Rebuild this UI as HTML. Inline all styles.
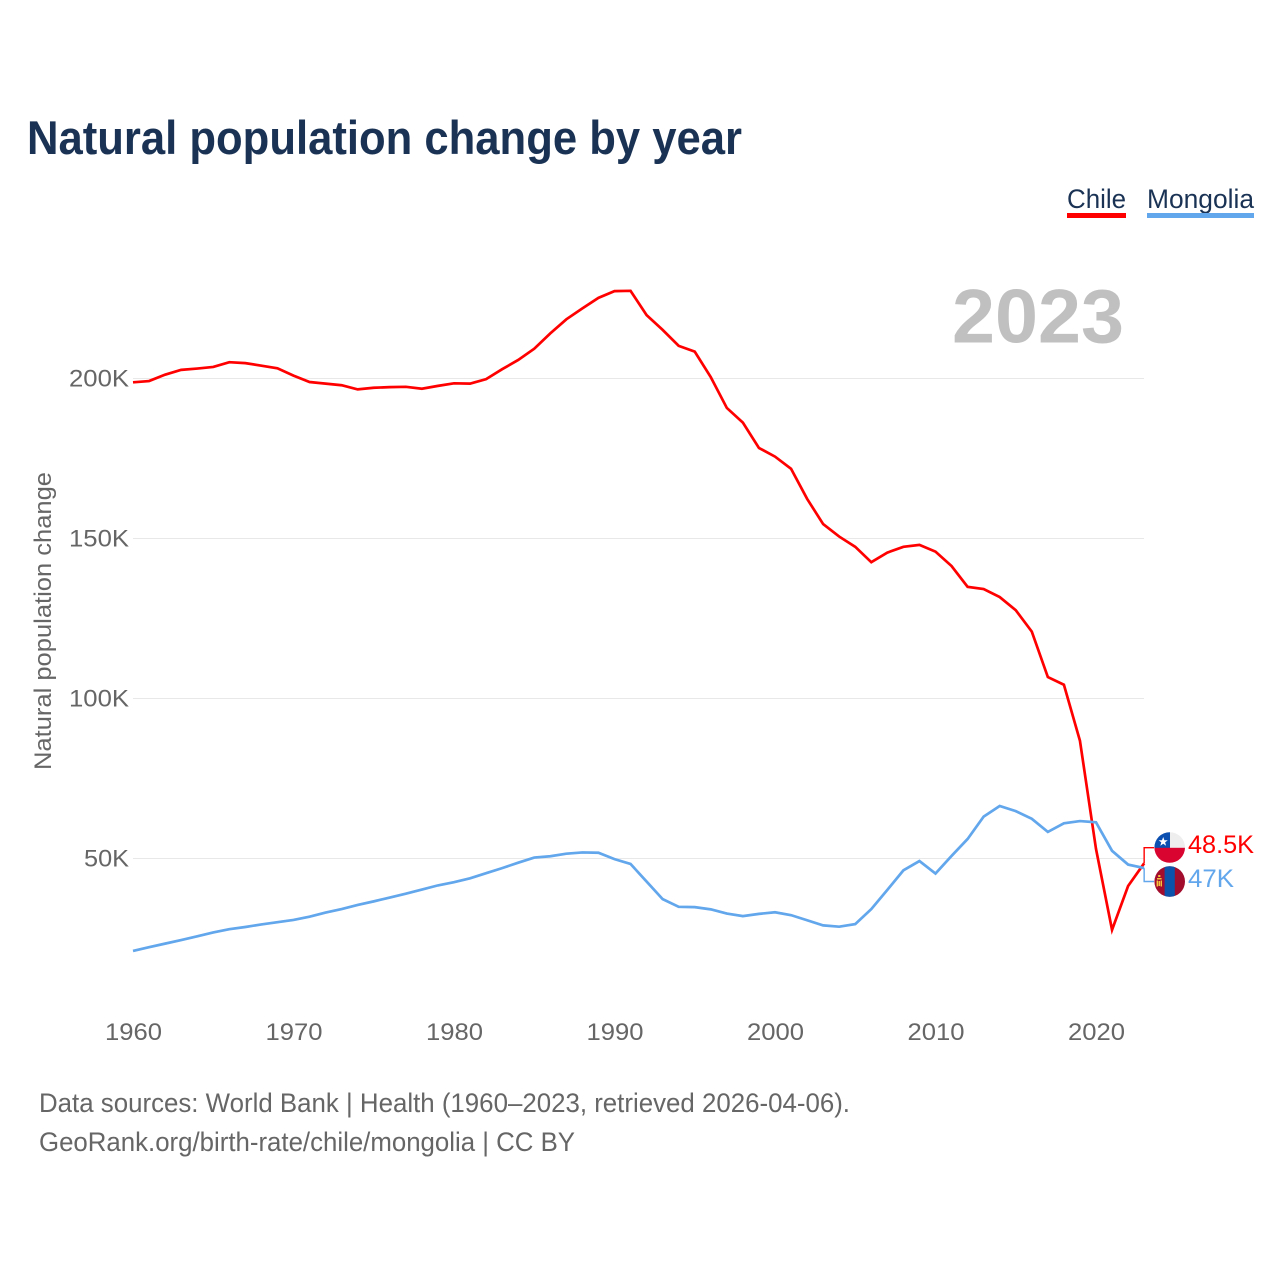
<!DOCTYPE html>
<html lang="en">
<head>
<meta charset="utf-8">
<title>Natural population change by year</title>
<style>
html,body{margin:0;padding:0;background:#fff}
svg{display:block}
text{font-family:"Liberation Sans",sans-serif}
</style>
</head>
<body>
<svg id="chart" xmlns="http://www.w3.org/2000/svg" width="1280" height="1280" viewBox="0 0 1280 1280">
  <rect x="0" y="0" width="1280" height="1280" fill="#fff"/>
  <text x="27" y="154" font-size="47" font-weight="700" fill="#1a3355" textLength="715" lengthAdjust="spacingAndGlyphs">Natural population change by year</text>

  <g>
    <text x="1067" y="208" font-size="27" fill="#1a3355" textLength="59" lengthAdjust="spacingAndGlyphs">Chile</text>
    <rect x="1067" y="213" width="59" height="5" fill="#ff0000"/>
  </g>
  <g>
    <text x="1147" y="208" font-size="27" fill="#1a3355" textLength="107" lengthAdjust="spacingAndGlyphs">Mongolia</text>
    <rect x="1147" y="213" width="107" height="5" fill="#62a6ec"/>
  </g>

  <g id="grid"></g>
  <text x="952" y="342.5" font-size="76" font-weight="700" fill="#c0c0c0" textLength="172" lengthAdjust="spacingAndGlyphs">2023</text>
  <g id="yticks"></g>
  <g id="xticks"></g>
  <text transform="translate(51,770) rotate(-90)" x="0" y="0" font-size="24" fill="#666" textLength="298" lengthAdjust="spacingAndGlyphs">Natural population change</text>

  <g id="series"></g>

  <defs>
    <clipPath id="clip-chile"><circle cx="1169.7" cy="847.5" r="15.3"/></clipPath>
    <clipPath id="clip-mongolia"><circle cx="1169.7" cy="881.5" r="15.3"/></clipPath>
  </defs>
  <g clip-path="url(#clip-chile)">
    <rect x="1154" y="832" width="32" height="16" fill="#eeeeee"/>
    <rect x="1154" y="832" width="16" height="16" fill="#0b4fb0"/>
    <rect x="1154" y="847.8" width="32" height="16" fill="#d9042f"/>
    <polygon points="1163.2,837 1164.4,840.3 1167.8,840.3 1165.1,842.4 1166.1,845.7 1163.2,843.7 1160.3,845.7 1161.3,842.4 1158.6,840.3 1162,840.3" fill="#fff"/>
  </g>
  <g clip-path="url(#clip-mongolia)">
    <rect x="1154" y="866" width="32" height="32" fill="#a30d2d"/>
    <rect x="1164.6" y="866" width="10.2" height="32" fill="#0b53ab"/>
    <rect x="1158.2" y="875" width="2.2" height="2" fill="#f4c43a"/>
    <rect x="1157" y="878" width="4.6" height="1.5" fill="#f4c43a"/>
    <rect x="1156.6" y="880.5" width="1.4" height="6" fill="#f4c43a"/>
    <rect x="1160.6" y="880.5" width="1.4" height="6" fill="#f4c43a"/>
    <rect x="1158.5" y="881" width="1.6" height="5" fill="#f4c43a"/>
  </g>
  <text x="1188" y="853" font-size="25" fill="#ff0000" textLength="66" lengthAdjust="spacingAndGlyphs">48.5K</text>
  <text x="1188" y="887" font-size="25" fill="#62a6ec" textLength="46" lengthAdjust="spacingAndGlyphs">47K</text>

  <text x="39" y="1112" font-size="27" fill="#666" textLength="811" lengthAdjust="spacingAndGlyphs">Data sources: World Bank | Health (1960–2023, retrieved 2026-04-06).</text>
  <text x="39" y="1151" font-size="27" fill="#666" textLength="536" lengthAdjust="spacingAndGlyphs">GeoRank.org/birth-rate/chile/mongolia | CC BY</text>
</svg>
<script>
const startYear = 1960;
const chileValues = [198.8,199.2,201.2,202.7,203.1,203.6,205.1,204.8,204.0,203.2,200.9,198.9,198.4,197.9,196.6,197.1,197.3,197.4,196.8,197.7,198.5,198.4,199.8,202.9,205.8,209.3,214.1,218.5,221.9,225.2,227.3,227.4,219.8,215.2,210.2,208.4,200.4,190.8,186.2,178.3,175.6,171.8,162.4,154.5,150.6,147.4,142.6,145.6,147.4,148.0,145.9,141.4,134.9,134.2,131.7,127.6,120.9,106.7,104.3,86.8,53.0,27.7,41.4,48.5];
const mongoliaValues = [21.1,22.3,23.4,24.5,25.7,26.9,27.9,28.6,29.4,30.1,30.8,31.8,33.1,34.2,35.5,36.6,37.8,39.0,40.3,41.6,42.6,43.8,45.4,47.0,48.7,50.3,50.7,51.5,51.9,51.8,49.8,48.3,42.8,37.3,34.9,34.8,34.1,32.8,32.0,32.7,33.2,32.3,30.7,29.1,28.7,29.5,34.2,40.2,46.3,49.2,45.3,50.8,56.1,63.1,66.4,64.8,62.4,58.3,61.0,61.7,61.3,52.4,48.1,47.0];
const yTickValues = [50,100,150,200];
const yTickLabels = ["50K","100K","150K","200K"];
const xTickYears = [1960,1970,1980,1990,2000,2010,2020];

const NS = "http://www.w3.org/2000/svg";
function xScale(year){ return 133 + (year - 1960) * 16.05; }
function yScale(v){ return 858.5 - (v - 50) * 3.2; }
function make(tag, attrs, parent){
  const el = document.createElementNS(NS, tag);
  for (const k in attrs) el.setAttribute(k, attrs[k]);
  parent.appendChild(el);
  return el;
}

const grid = document.getElementById("grid");
const yticks = document.getElementById("yticks");
yTickValues.forEach(function(v, i){
  const line = make("line", {x1:133, x2:1144, y1:yScale(v), y2:yScale(v), stroke:"#e8e8e8", "stroke-width":1}, grid);
  
  
  const t = make("text", {x:129, y:yScale(v)+8, "text-anchor":"end", "font-size":24, fill:"#666", textLength:15*yTickLabels[i].length, lengthAdjust:"spacingAndGlyphs"}, yticks);
  
  
  t.textContent = yTickLabels[i];
});

const xticks = document.getElementById("xticks");
xTickYears.forEach(function(year){
  const t = make("text", {x:xScale(year)+0.5, y:1040, "text-anchor":"middle", "font-size":24, fill:"#666", textLength:57, lengthAdjust:"spacingAndGlyphs"}, xticks);
  
  
  t.textContent = String(year);
});

function linePath(values){
  return values.map(function(v, i){
    return (i ? "L" : "M") + xScale(startYear + i).toFixed(2) + " " + yScale(v).toFixed(2);
  }).join(" ");
}
const series = document.getElementById("series");

const chileLast = yScale(chileValues[chileValues.length - 1]);
const mongoliaLast = yScale(mongoliaValues[mongoliaValues.length - 1]);
const endX = xScale(startYear + chileValues.length - 1);

const chileConnector = make("polyline", {points:endX+","+chileLast+" "+endX+",847.7 1154,847.7", fill:"none", stroke:"#ff0000", "stroke-width":1.4}, series);


const mongoliaConnector = make("polyline", {points:endX+","+mongoliaLast+" "+endX+",881.5 1154,881.5", fill:"none", stroke:"#62a6ec", "stroke-width":1.4}, series);



const chileLine = make("path", {d:linePath(chileValues), fill:"none", stroke:"#ff0000", "stroke-width":2.7, "stroke-linejoin":"miter"}, series);


const mongoliaLine = make("path", {d:linePath(mongoliaValues), fill:"none", stroke:"#62a6ec", "stroke-width":2.7, "stroke-linejoin":"miter"}, series);


</script>
</body>
</html>
